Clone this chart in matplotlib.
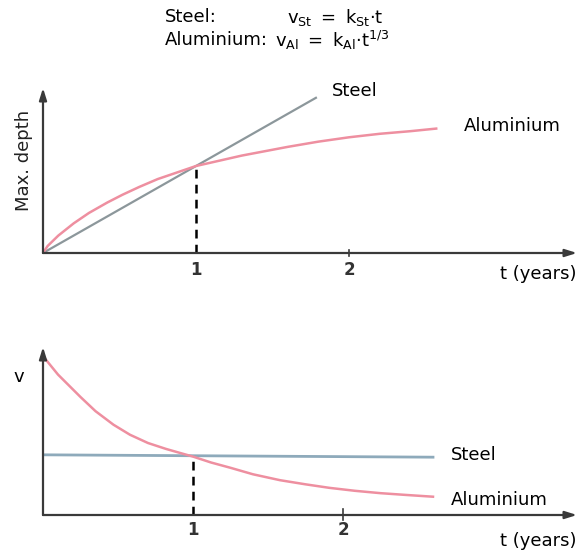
import numpy as np
import matplotlib
matplotlib.use('Agg')
import matplotlib.pyplot as plt

# depth vs time (depth unit = depth reached by steel after 1 year)
t_steel_depth = [0.0, 1.79]
steel_depth = [0.0, 1.79]
t_alu_depth = [0.0, 0.03, 0.1, 0.2, 0.3, 0.42, 0.52, 0.63, 0.75, 0.85, 1.0,
               1.15, 1.3, 1.45, 1.6, 1.8, 2.0, 2.2, 2.4, 2.57]
alu_depth = [0.0, 0.08, 0.2, 0.34, 0.46, 0.58, 0.67, 0.76, 0.85, 0.91, 1.0,
             1.06, 1.12, 1.17, 1.22, 1.28, 1.33, 1.37, 1.40, 1.43]

# corrosion rate vs time (rate unit = steel rate)
t_steel_rate = [0.0, 2.6]
steel_rate = [1.02, 0.98]
t_alu_rate = [0.02, 0.1, 0.25, 0.35, 0.47, 0.58, 0.70, 0.82, 0.93, 1.0, 1.12,
              1.25, 1.4, 1.58, 1.75, 1.91, 2.08, 2.25, 2.42, 2.6]
alu_rate = [2.63, 2.38, 2.0, 1.76, 1.53, 1.36, 1.22, 1.12, 1.04, 0.99, 0.89,
            0.80, 0.69, 0.59, 0.52, 0.46, 0.41, 0.37, 0.34, 0.31]

xticks = [1, 2]
xtick_labels = ['1', '2']

W, H = 581, 551
STEEL_TOP = '#8c979b'
STEEL_BOT = '#8eaabb'
ALU = '#ee8fa0'
AXC = '#3a3a3a'
FS = 13

fig = plt.figure(figsize=(W / 100, H / 100), dpi=100)


def px_axes(left, top, right, bottom):
    return fig.add_axes([left / W, 1 - bottom / H, (right - left) / W, (bottom - top) / H])


def draw_frame(ax):
    for s in ax.spines.values():
        s.set_visible(False)
    ax.set_xticks([])
    ax.set_yticks([])
    ax.patch.set_alpha(0)
    arr = dict(arrowstyle='-|>,head_length=0.7,head_width=0.22', color=AXC, lw=1.6,
               shrinkA=0, shrinkB=0)
    ax.annotate('', xy=(1, 0), xytext=(0, 0), xycoords='axes fraction', arrowprops=arr)
    ax.annotate('', xy=(0, 1), xytext=(0, 0), xycoords='axes fraction', arrowprops=arr)


# --- top: max. depth ---
ax1 = px_axes(43, 88, 577, 253)
ax1.set_xlim(0, (577 - 43) / 153)
ax1.set_ylim(0, (253 - 88) / 87)
draw_frame(ax1)
ax1.plot(t_steel_depth, steel_depth, color=STEEL_TOP, lw=1.6, solid_capstyle='butt')
ax1.plot(t_alu_depth, alu_depth, color=ALU, lw=1.8, solid_joinstyle='round')
ax1.plot([1, 1], [0, 1], color='black', lw=1.8, ls=(0, (3.5, 2.5)))
ax1.plot([2, 2], [-0.04, 0.04], color=AXC, lw=1.2, clip_on=False)
for x, lab in zip(xticks, xtick_labels):
    ax1.text(x, -0.2, lab, ha='center', va='center', fontsize=FS - 1, fontweight='bold',
             color='#333333', clip_on=False)
ax1.text(t_steel_depth[-1] + 0.1, steel_depth[-1] + 0.07, 'Steel', fontsize=FS,
         va='center', ha='left')
ax1.text(t_alu_depth[-1] + 0.18, alu_depth[-1] + 0.03, 'Aluminium', fontsize=FS,
         va='center', ha='left')
ax1.text(1.0, -0.07, 't (years)', transform=ax1.transAxes, fontsize=FS,
         ha='right', va='top', clip_on=False)
ax1.text(-0.035, 0.56, 'Max. depth', transform=ax1.transAxes, fontsize=FS,
         rotation=90, ha='center', va='center', color='#222222')

# --- bottom: rate ---
ax2 = px_axes(43, 347, 577, 515)
ax2.set_xlim(0, (577 - 43) / 150)
ax2.set_ylim(0, (515 - 347) / 59)
draw_frame(ax2)
ax2.plot(t_steel_rate, steel_rate, color=STEEL_BOT, lw=2.0)
ax2.plot(t_alu_rate, alu_rate, color=ALU, lw=1.8, solid_joinstyle='round')
ax2.plot([1, 1], [0, 1], color='black', lw=1.8, ls=(0, (3.5, 2.5)))
ax2.plot([2, 2], [-0.08, 0.1], color=AXC, lw=1.2, clip_on=False)
for x, lab in zip(xticks, xtick_labels):
    ax2.text(x, -0.26, lab, ha='center', va='center', fontsize=FS - 1, fontweight='bold',
             color='#333333', clip_on=False)
ax2.text(t_steel_rate[-1] + 0.12, steel_rate[-1] + 0.04, 'Steel', fontsize=FS,
         va='center', ha='left')
ax2.text(t_alu_rate[-1] + 0.12, alu_rate[-1] - 0.05, 'Aluminium', fontsize=FS,
         va='center', ha='left')
ax2.text(1.0, -0.1, 't (years)', transform=ax2.transAxes, fontsize=FS,
         ha='right', va='top', clip_on=False)
ax2.text(-0.045, 0.82, 'v', transform=ax2.transAxes, fontsize=FS,
         ha='center', va='center')

# --- formulas ---
fig.text(165 / W, 1 - 17 / H, 'Steel:', fontsize=FS, va='center')
fig.text(287 / W, 1 - 17 / H, r'$\mathregular{v_{St}\ =\ k_{St}{\cdot}t}$', fontsize=FS, va='center')
fig.text(165 / W, 1 - 40 / H, 'Aluminium:', fontsize=FS, va='center')
fig.text(275 / W, 1 - 40 / H, r'$\mathregular{v_{Al}\ =\ k_{Al}{\cdot}t^{1/3}}$', fontsize=FS, va='center')

fig.savefig('out.png', dpi=100, facecolor='white')
